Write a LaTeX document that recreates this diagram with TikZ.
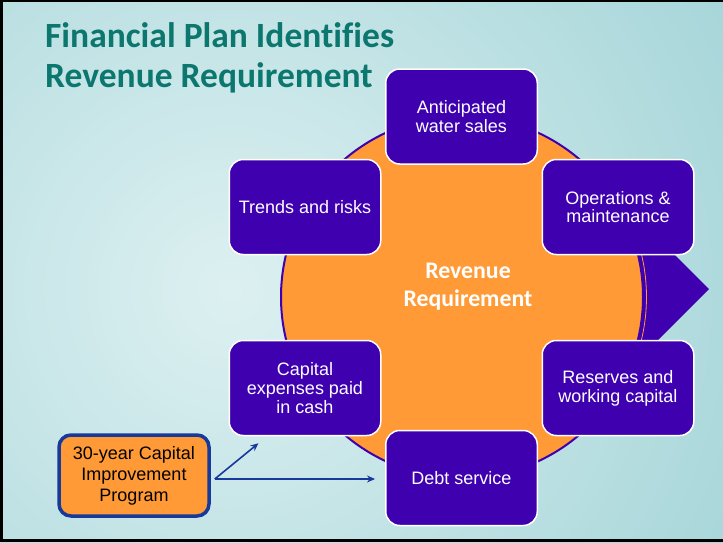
\documentclass[tikz,border=0pt]{standalone}
\usepackage{fontspec}
\setmainfont{Liberation Sans}
\newfontfamily\calib[Ligatures=NoCommon]{Carlito}
\usetikzlibrary{calc,arrows.meta}
\definecolor{purp}{HTML}{3F00B0}
\definecolor{orng}{HTML}{FF9A36}
\definecolor{teal1}{HTML}{0B776E}
\definecolor{bgin}{HTML}{DDF0F1}
\definecolor{bgout}{HTML}{88C7CC}
\definecolor{navy}{HTML}{17399A}
\begin{document}
\begin{tikzpicture}[x=1pt,y=-1pt,
  pbox/.style={rectangle, rounded corners=14pt, fill=purp, draw=white, line width=1.5pt,
    minimum width=151.5pt, minimum height=95pt, text=white, align=center,
    font=\fontsize{18}{18.8}\selectfont, inner sep=2pt},
  cipbox/.style={rectangle, rounded corners=12pt, fill=orng, draw=navy, line width=3.5pt,
    minimum width=150pt, minimum height=81pt, text=black, align=center,
    font=\fontsize{18}{21}\selectfont, inner sep=2pt},
  titletext/.style={anchor=base west, text=teal1, inner sep=0pt,
    font=\calib\bfseries\fontsize{35.5}{40}\selectfont},
  conn/.style={navy, line width=1.6pt, -{Stealth[length=8pt,width=7pt]}}]
\useasboundingbox (0,0) rectangle (723,542);
% background
\begin{scope}
  \clip (0,0) rectangle (723,542);
  \shade[inner color=bgin, outer color=bgout] (230,290) circle (900);
\end{scope}
% cycle arrow
\coordinate (c) at (462,297);
\fill[purp] (709,289) -- (600,180) -- (600,398) -- cycle;
\draw[purp, line width=2pt, fill=orng] (c) circle (181);
\draw[orng, line width=0.8pt] ($(c)+(-25:184.5)$) arc[start angle=-25, end angle=25, radius=184.5];
% boxes
\node[pbox] (sales) at (461.5,116.5) {Anticipated\\water sales};
\node[pbox] (trends) at (305,207) {Trends and risks};
\node[pbox] (om) at (618,207) {Operations \&\\maintenance};
\node[pbox] (capex) at (305,388) {Capital\\expenses paid\\in cash};
\node[pbox] (reserves) at (618,388) {Reserves and\\working capital};
\node[pbox] (debt) at (461.5,478) {Debt service};
\node[text=white, align=center, font=\calib\bfseries\fontsize{23.8}{28}\selectfont] (rr) at (468,287) {Revenue\\Requirement};
% title
\node[titletext] (t1) at (45,47) {Financial Plan Identifies};
\node[titletext] (t2) at (45,87) {Revenue Requirement};
% CIP
\node[cipbox] (cip) at (134,475.5) {30-year Capital\\Improvement\\Program};
\coordinate (s) at ($(cip.east)+(4,3.5)$);
\draw[conn] (s) -- ($(debt.west)+(-10,1)$);
\draw[conn] (s) -- ($(capex.south west)+(30,7)$);
% frame
\fill[black] (0,0) rectangle (723,2);
\fill[black] (0,0) rectangle (3,542);
\fill[black] (0,538.5) rectangle (723,542);
\end{tikzpicture}
\end{document}
